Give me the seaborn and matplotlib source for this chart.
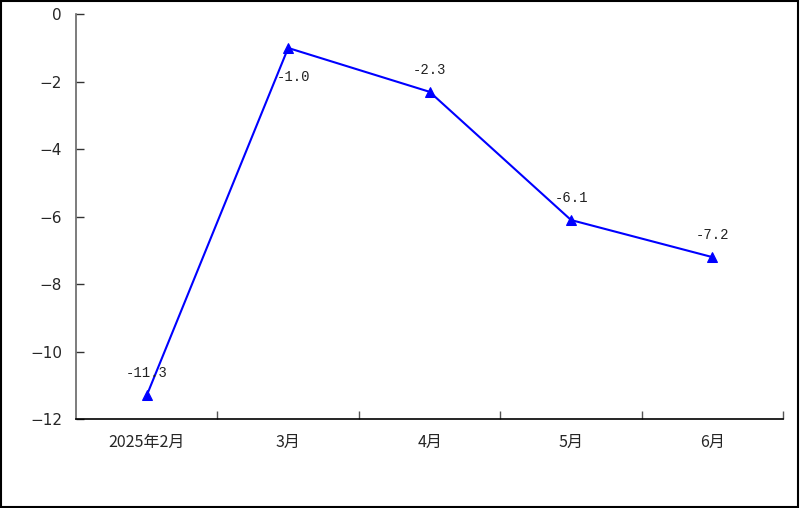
import pandas as pd
import seaborn as sns
import matplotlib.pyplot as plt
import matplotlib.patches as patches
from matplotlib.ticker import FixedLocator

# chart data
months = ['2025年2月', '3月', '4月', '5月', '6月']
values = [-11.3, -1.0, -2.3, -6.1, -7.2]
label_offsets = [(0, 16), (4, -21), (0, 16), (0, 16), (0, 16)]  # offset of value labels, points

df = pd.DataFrame({'month': months, 'value': values})

sns.set_theme(style="white")
plt.rcParams['font.family'] = ['DejaVu Sans', 'Noto Sans CJK SC']
plt.rcParams['axes.unicode_minus'] = True

fig = plt.figure(figsize=(8, 5.08), dpi=100)
ax = fig.add_axes([0.095, 0.175, 0.884, 0.797])

sns.lineplot(
    data=df,
    x='month',
    y='value',
    sort=False,
    color='#0000ff',
    linewidth=1.5,
    marker='^',
    markersize=7,
    markeredgecolor='#0000ff',
    ax=ax
)

# value labels
for i, (v, off) in enumerate(zip(values, label_offsets)):
    ax.annotate(f'{v:.1f}', (i, v), xytext=off, textcoords='offset points',
                ha='center', va='center', fontsize=10,
                family=['Liberation Mono', 'DejaVu Sans Mono'], color='#222222')

# axes limits and ticks
ax.set_ylim(-12, 0)
ax.set_yticks(range(-12, 1, 2))
ax.set_xlim(-0.5, len(months) - 0.5)
ax.set_xticks(range(len(months)))
ax.set_xticklabels(months, family=['Noto Sans CJK SC', 'DejaVu Sans'], fontsize=11.5)
ax.xaxis.set_minor_locator(FixedLocator([i + 0.5 for i in range(len(months))]))

ax.tick_params(axis='x', which='major', length=0, pad=11)
ax.tick_params(axis='x', which='minor', direction='in', length=6, width=1, color='#555555', bottom=True)
ax.tick_params(axis='y', direction='in', length=6, width=1, color='#333333', left=True, labelsize=11, pad=10)

ax.set_xlabel('')
ax.set_ylabel('')

sns.despine(ax=ax, top=True, right=True)
ax.spines['left'].set_color('#666666')
ax.spines['left'].set_linewidth(1.2)
ax.spines['bottom'].set_color('black')
ax.spines['bottom'].set_linewidth(1.2)

# frame around the whole figure
fig.patches.append(patches.Rectangle((0.001, 0.002), 0.997, 0.996, transform=fig.transFigure,
                                     fill=False, edgecolor='black', linewidth=1.5))

fig.savefig('out.png', dpi=100)
